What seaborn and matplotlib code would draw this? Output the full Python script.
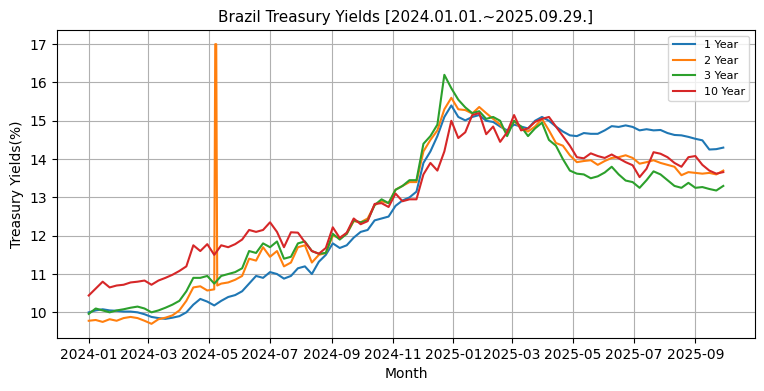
import pandas as pd
import numpy as np
import matplotlib
matplotlib.use("Agg")
import matplotlib.pyplot as plt
import matplotlib.dates as mdates
import seaborn as sns

# weekly readings, 2024-01-01 .. 2025-09-29
dates = pd.date_range("2024-01-01", "2025-09-29", freq="7D")

yield_1y = [
    10.00, 10.05, 10.08, 10.05, 10.04, 10.02, 10.02, 10.00, 9.95, 9.88,
    9.85, 9.83, 9.86, 9.90, 10.00, 10.20, 10.35, 10.28, 10.18, 10.30,
    10.40, 10.45, 10.55, 10.75, 10.95, 10.90, 11.05, 11.00, 10.88, 10.95,
    11.15, 11.20, 11.00, 11.32, 11.50, 11.80, 11.68, 11.75, 11.95, 12.10,
    12.15, 12.40, 12.45, 12.50, 12.78, 12.92, 13.00, 13.15, 13.90, 14.20,
    14.60, 15.10, 15.40, 15.10, 15.01, 15.10, 15.15, 15.00, 14.97, 14.85,
    14.75, 14.90, 14.85, 14.80, 15.00, 15.10, 15.00, 14.85, 14.72, 14.62,
    14.60, 14.68, 14.66, 14.66, 14.75, 14.86, 14.84, 14.88, 14.84, 14.75,
    14.78, 14.75, 14.76, 14.68, 14.63, 14.62, 14.58, 14.53, 14.49, 14.25,
    14.26, 14.30,
]

yield_2y = [
    9.78, 9.80, 9.75, 9.82, 9.78, 9.85, 9.88, 9.85, 9.78, 9.70,
    9.82, 9.86, 9.92, 10.05, 10.30, 10.65, 10.68, 10.57, 10.60, 10.75,
    10.78, 10.85, 10.95, 11.40, 11.35, 11.70, 11.45, 11.60, 11.20, 11.30,
    11.70, 11.75, 11.30, 11.50, 11.55, 12.00, 11.95, 12.05, 12.38, 12.35,
    12.45, 12.80, 12.90, 12.85, 13.20, 13.30, 13.40, 13.40, 14.20, 14.50,
    14.75, 15.30, 15.60, 15.30, 15.28, 15.19, 15.36, 15.20, 15.05, 14.90,
    14.68, 15.00, 14.80, 14.72, 14.85, 15.05, 14.75, 14.42, 14.35, 14.10,
    13.92, 13.95, 13.97, 13.85, 13.95, 14.03, 14.05, 14.10, 14.03, 13.88,
    13.92, 13.97, 13.90, 13.85, 13.80, 13.58, 13.66, 13.64, 13.62, 13.64,
    13.60, 13.70,
]
# one-off spike in the 2 year series in May 2024
spike_dates = pd.to_datetime(["2024-05-07", "2024-05-08", "2024-05-09"])
spike_2y = [17.00, 17.00, 10.70]

yield_3y = [
    9.96, 10.10, 10.05, 10.00, 10.05, 10.08, 10.12, 10.15, 10.10, 10.00,
    10.05, 10.12, 10.20, 10.30, 10.55, 10.90, 10.90, 10.95, 10.75, 10.95,
    11.00, 11.05, 11.15, 11.60, 11.55, 11.80, 11.70, 11.85, 11.40, 11.45,
    11.80, 11.85, 11.60, 11.53, 11.55, 12.05, 11.90, 12.05, 12.40, 12.35,
    12.40, 12.80, 12.95, 12.85, 13.20, 13.30, 13.45, 13.45, 14.40, 14.60,
    14.90, 16.20, 15.85, 15.55, 15.35, 15.20, 15.25, 15.05, 15.10, 15.00,
    14.60, 15.00, 14.85, 14.60, 14.80, 14.95, 14.50, 14.35, 14.00, 13.70,
    13.62, 13.60, 13.50, 13.55, 13.65, 13.80, 13.60, 13.44, 13.40, 13.25,
    13.45, 13.68, 13.60, 13.45, 13.30, 13.25, 13.38, 13.25, 13.27, 13.22,
    13.18, 13.30,
]

yield_10y = [
    10.44, 10.62, 10.80, 10.65, 10.70, 10.72, 10.78, 10.80, 10.83, 10.72,
    10.83, 10.90, 10.98, 11.08, 11.20, 11.75, 11.60, 11.78, 11.50, 11.75,
    11.70, 11.78, 11.90, 12.15, 12.10, 12.15, 12.35, 12.10, 11.70, 12.09,
    12.08, 11.83, 11.60, 11.53, 11.68, 12.22, 11.94, 12.08, 12.45, 12.30,
    12.38, 12.83, 12.85, 12.75, 13.10, 12.90, 12.95, 12.95, 13.60, 13.90,
    13.70, 14.20, 15.00, 14.55, 14.70, 15.15, 15.20, 14.65, 14.85, 14.45,
    14.70, 15.15, 14.75, 14.80, 14.97, 15.05, 15.10, 14.85, 14.60, 14.35,
    14.05, 14.02, 14.15, 14.08, 14.03, 14.12, 14.02, 13.92, 13.84, 13.53,
    13.75, 14.18, 14.14, 14.05, 13.90, 13.80, 14.05, 14.08, 13.85, 13.70,
    13.62, 13.66,
]

labels = ["1 Year", "2 Year", "3 Year", "10 Year"]
colors = ["#1f77b4", "#ff7f0e", "#2ca02c", "#d62728"]

frames = [
    pd.DataFrame({"Date": dates, "Yield": yield_1y, "Tenor": "1 Year"}),
    pd.DataFrame({"Date": list(dates) + list(spike_dates),
                  "Yield": yield_2y + spike_2y, "Tenor": "2 Year"}),
    pd.DataFrame({"Date": dates, "Yield": yield_3y, "Tenor": "3 Year"}),
    pd.DataFrame({"Date": dates, "Yield": yield_10y, "Tenor": "10 Year"}),
]
df = pd.concat(frames, ignore_index=True).sort_values(["Tenor", "Date"])

fig, ax = plt.subplots(figsize=(7.64, 3.91), dpi=100)
fig.subplots_adjust(left=57 / 764, right=755 / 764, top=1 - 30 / 391, bottom=1 - 338 / 391)

sns.lineplot(data=df, x="Date", y="Yield", hue="Tenor", hue_order=labels,
             palette=dict(zip(labels, colors)), estimator=None, linewidth=1.5, ax=ax)

ax.set_title("Brazil Treasury Yields [2024.01.01.~2025.09.29.]", fontsize=11)
ax.set_xlabel("Month")
ax.set_ylabel("Treasury Yields(%)")
ax.xaxis.set_major_locator(mdates.MonthLocator(bymonth=[1, 3, 5, 7, 9, 11]))
ax.xaxis.set_major_formatter(mdates.DateFormatter("%Y-%m"))
ax.set_ylim(9.33, 17.37)
ax.grid(True)
ax.legend(loc="upper right", fontsize=8)

plt.savefig("out.png", dpi=100)
